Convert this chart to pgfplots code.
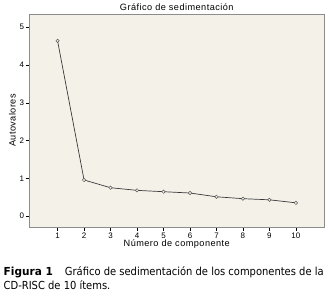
\documentclass[border=0pt]{standalone}
\usepackage{pgfplots}
\pgfplotsset{compat=1.18}
\usepackage{fontspec}
\setmainfont{Liberation Sans}
\newfontfamily\chartfont[LetterSpace=5]{Liberation Sans}
\newfontfamily\capfont{DejaVu Sans Condensed}
\definecolor{bgc}{HTML}{F4F1E9}
\definecolor{framec}{HTML}{8C8C8C}
\definecolor{linec}{HTML}{3A3A3A}
\begin{document}
\begin{tikzpicture}
\useasboundingbox (0bp,0bp) rectangle (334bp,-297bp);
\begin{axis}[
  at={(29.5bp,-227bp)}, anchor=south west,
  scale only axis, width=294.5bp, height=213bp,
  xmin=-0.06, xmax=11.06, ymin=-0.29, ymax=5.35,
  xtick={1,...,10}, ytick={0,1,2,3,4,5},
  axis background/.style={fill=bgc},
  axis line style={framec, line width=0.6pt},
  tick style={black, line width=0.5pt},
  tick align=outside, major tick length=3.5bp,
  xtick pos=bottom, ytick pos=left,
  tick label style={font=\fontsize{8}{9}\selectfont},
  /pgf/number format/assume math mode=true,
  xticklabel style={yshift=1.5bp},
  yticklabel style={xshift=1.5bp},
  xlabel={Número de componente},
  ylabel={Autovalores},
  label style={font=\chartfont\fontsize{9.2}{10}\selectfont},
  xlabel style={yshift=5bp},
  ylabel style={yshift=-3bp},
  title={Gráfico de sedimentación},
  title style={font=\chartfont\fontsize{9.2}{10}\selectfont, yshift=-6.5bp},
]
\addplot[linec, line width=0.7pt, mark=*, mark size=1.7bp, mark options={draw=gray!70!black, fill=bgc, line width=0.5pt}]
coordinates {(1,4.64) (2,0.955) (3,0.75) (4,0.68) (5,0.645) (6,0.61) (7,0.51) (8,0.46) (9,0.43) (10,0.35)};
\end{axis}
\node[anchor=base west, inner sep=0pt, font=\capfont\fontsize{11.1}{12}\selectfont] at (3.5bp,-275.7bp) {\scalebox{1.06}[1]{\textbf{Figura 1}}\hspace{12bp}Gráfico de sedimentación de los componentes de la};
\node[anchor=base west, inner sep=0pt, font=\capfont\fontsize{11.1}{12}\selectfont] at (3.5bp,-289bp) {CD-RISC de 10 ítems.};
\end{tikzpicture}
\end{document}
